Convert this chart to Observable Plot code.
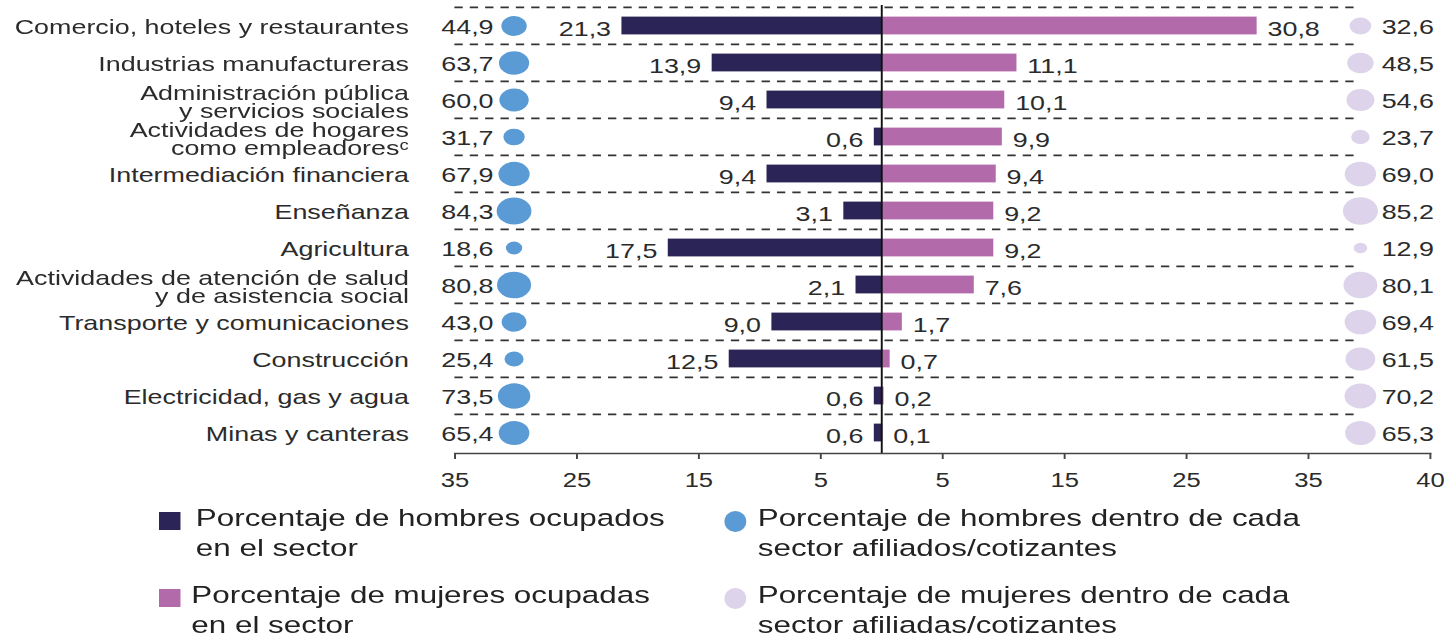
<!DOCTYPE html>
<html>
<head>
<meta charset="utf-8">
<script src="https://cdn.jsdelivr.net/npm/d3@7"></script>
<script src="https://cdn.jsdelivr.net/npm/@observablehq/plot@0.6"></script>
<style>
  html, body { margin: 0; padding: 0; background: #fff; }
  #wrap {
    position: relative; width: 1133px; height: 636px;
    transform: scaleX(1.28); transform-origin: 0 0;
    font-family: Arial, "Liberation Sans", sans-serif; color: #2b2b2b;
  }
  #chart svg { display: block; overflow: visible; }
  .leg { position: absolute; font-size: 24.5px; line-height: 30px; color: #222; white-space: nowrap; }
  .mk { position: absolute; }
</style>
</head>
<body>
<div id="wrap">
  <div id="chart"></div>
  <div id="legend"></div>
</div>
<script>
// ---- Data ----
const sectors = [
  "Comercio, hoteles y restaurantes",
  "Industrias manufactureras",
  "Administración pública\ny servicios sociales",
  "Actividades de hogares\ncomo empleadoresᶜ",
  "Intermediación financiera",
  "Enseñanza",
  "Agricultura",
  "Actividades de atención de salud\ny de asistencia social",
  "Transporte y comunicaciones",
  "Construcción",
  "Electricidad, gas y agua",
  "Minas y canteras"
];
const menOccupied   = [21.3, 13.9, 9.4, 0.6, 9.4, 3.1, 17.5, 2.1, 9.0, 12.5, 0.6, 0.6];
const womenOccupied = [30.8, 11.1, 10.1, 9.9, 9.4, 9.2, 9.2, 7.6, 1.7, 0.7, 0.2, 0.1];
const menAffiliated   = [44.9, 63.7, 60.0, 31.7, 67.9, 84.3, 18.6, 80.8, 43.0, 25.4, 73.5, 65.4];
const womenAffiliated = [32.6, 48.5, 54.6, 23.7, 69.0, 85.2, 12.9, 80.1, 69.4, 61.5, 70.2, 65.3];
const xTickValues = [-35, -25, -15, -5, 5, 15, 25, 35, 45];
const xTickLabels = ["35", "25", "15", "5", "5", "15", "25", "35", "40"];
const legendLabels = [
  "Porcentaje de hombres ocupados\nen el sector",
  "Porcentaje de mujeres ocupadas\nen el sector",
  "Porcentaje de hombres dentro de cada\nsector afiliados/cotizantes",
  "Porcentaje de mujeres dentro de cada\nsector afiliadas/cotizantes"
];
const colors = { men: "#2b2456", women: "#b36aab", menDot: "#5b9bd5", womenDot: "#ddd3ea" };

// ---- Build ----
const rows = sectors.map((s, i) => ({
  sector: s, men: menOccupied[i], women: womenOccupied[i],
  menAff: menAffiliated[i], womenAff: womenAffiliated[i], multi: s.includes("\n")
}));
const fmt = v => v.toFixed(1).replace(".", ",");
const tickMap = new Map(xTickValues.map((v, i) => [v, xTickLabels[i]]));

const W = 1133, H = 500, mTop = 5, mBottom = 47;
const bw = (H - mBottom - mTop) / sectors.length;
const font = "Arial, 'Liberation Sans', sans-serif";

const plot = Plot.plot({
  width: W, height: H,
  marginLeft: 355, marginRight: 16, marginTop: mTop, marginBottom: mBottom,
  x: { domain: [-35, 45], axis: null, label: null },
  y: { domain: sectors, axis: null, padding: 0, label: null },
  r: { type: "sqrt", domain: [0, 100], range: [0, 14.8] },
  style: { fontFamily: font, color: "#2b2b2b", background: "#fff", overflow: "visible" },
  marks: [
    Plot.ruleY(rows, { y: "sector", x1: () => -35, x2: () => 39.2, dy: -bw / 2,
      stroke: "#333", strokeWidth: 1.6, strokeDasharray: "6.5,5.5" }),
    Plot.barX(rows, { x1: () => 0, x2: d => -d.men, y: "sector", fill: colors.men, insetTop: 9.6, insetBottom: 9.6 }),
    Plot.barX(rows, { x1: () => 0, x2: "women", y: "sector", fill: colors.women, insetTop: 9.6, insetBottom: 9.6 }),
    Plot.ruleX([0], { stroke: "#111", strokeWidth: 1.5 }),
    Plot.frame({ anchor: "bottom", stroke: "#444", strokeWidth: 1.5 }),
    Plot.axisX({ ticks: xTickValues, tickFormat: d => tickMap.get(d), tickSize: 6, tickPadding: 13,
      label: null, fontSize: 20, stroke: "#444", strokeWidth: 1.5, fill: "#2b2b2b" }),
    // bar value labels
    Plot.text(rows, { x: d => -d.men, y: "sector", text: d => fmt(d.men), textAnchor: "end",
      dx: -8.6, dy: 3, fontSize: 21, fill: "#2b2b2b" }),
    Plot.text(rows, { x: "women", y: "sector", text: d => fmt(d.women), textAnchor: "start",
      dx: 8, dy: 3, fontSize: 21, fill: "#2b2b2b" }),
    // affiliation bubbles
    Plot.dot(rows, { x: () => -30.16, y: "sector", r: "menAff", fill: colors.menDot, stroke: "none" }),
    Plot.dot(rows, { x: () => 39.26, y: "sector", r: "womenAff", fill: colors.womenDot, stroke: "none" }),
    Plot.text(rows, { x: () => -31.84, y: "sector", text: d => fmt(d.menAff), textAnchor: "end",
      dy: 1, fontSize: 21, fill: "#2b2b2b" }),
    Plot.text(rows, { x: () => 41.0, y: "sector", text: d => fmt(d.womenAff), textAnchor: "start",
      dy: 1, fontSize: 21, fill: "#2b2b2b" }),
    // category labels
    Plot.text(rows.filter(d => !d.multi), { x: () => -35, y: "sector", text: "sector", textAnchor: "end",
      dx: -36, dy: 1.5, fontSize: 21, fill: "#2b2b2b" }),
    Plot.text(rows.filter(d => d.multi), { x: () => -35, y: "sector", text: "sector", textAnchor: "end",
      dx: -36, dy: 3, fontSize: 21, lineHeight: 0.88, fill: "#2b2b2b" })
  ]
});
document.getElementById("chart").appendChild(plot);

// ---- Legend ----
const legend = document.getElementById("legend");
const legendItems = [
  { label: legendLabels[0], color: colors.men, shape: "square", mx: 123.5, tx: 153, top: 503 },
  { label: legendLabels[1], color: colors.women, shape: "square", mx: 123.5, tx: 149.5, top: 580 },
  { label: legendLabels[2], color: colors.menDot, shape: "circle", mx: 574, tx: 592, top: 503 },
  { label: legendLabels[3], color: colors.womenDot, shape: "circle", mx: 574, tx: 592, top: 580 }
];
legendItems.forEach(it => {
  const t = document.createElement("div");
  t.className = "leg";
  t.style.left = it.tx + "px";
  t.style.top = it.top + "px";
  t.innerHTML = it.label.split("\n").join("<br>");
  legend.appendChild(t);
  const m = document.createElement("div");
  m.className = "mk";
  if (it.shape === "square") {
    m.style.left = it.mx + "px"; m.style.top = (it.top + 9) + "px";
    m.style.width = "17px"; m.style.height = "18px";
  } else {
    m.style.left = (it.mx - 8.5) + "px"; m.style.top = (it.top + 8) + "px";
    m.style.width = "17px"; m.style.height = "21px"; m.style.borderRadius = "50%";
  }
  m.style.background = it.color;
  legend.appendChild(m);
});
</script>
</body>
</html>
